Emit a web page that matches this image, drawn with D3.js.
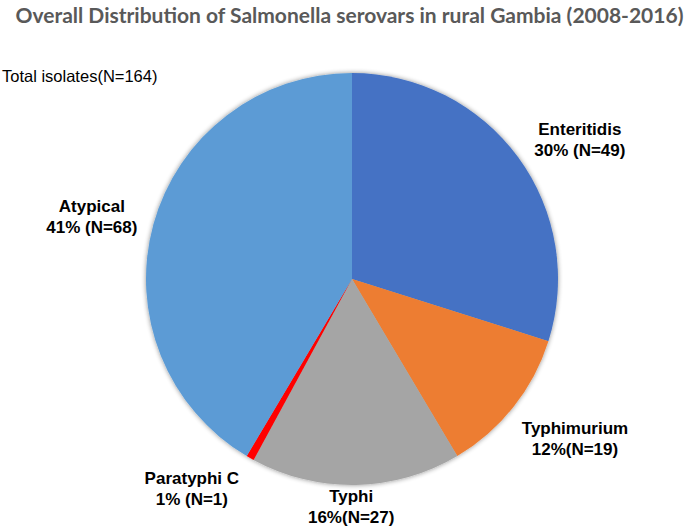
<!DOCTYPE html>
<html lang="en">
<head>
<meta charset="UTF-8">
<title>Salmonella serovars</title>
<style>
  body { margin: 0; background: #fff; }
  .titulo { font-family: Lato, "Open Sans", sans-serif; font-weight: 700; font-size: 21px; fill: #595959; }
  .etiqueta { font-family: "Liberation Sans", Arial, sans-serif; font-weight: 700; font-size: 17px; fill: #000; }
  .total { font-family: "Liberation Sans", Arial, sans-serif; font-size: 16.5px; fill: #000; }
</style>
<script src="https://d3js.org/d3.v7.min.js"></script>
</head>
<body>
<script>
// Datos
var serovars = ["Enteritidis", "Typhimurium", "Typhi", "Paratyphi C", "Atypical"];
var isolates = [49, 19, 27, 1, 68];
var colores  = ["#4472C4", "#ED7D31", "#A5A5A5", "#FF0000", "#5B9BD5"];
var separador = [" ", "", "", " ", " "];   // como en el original

var ancho = 689, alto = 530,
    cx = 352, cy = 279, radio = 206;

var total = d3.sum(isolates);
var datos = serovars.map(function(s, i) {
  return { nombre: s, n: isolates[i], color: colores[i], sep: separador[i] };
});

// ajuste de las etiquetas: radio relativo y giro (grados)
var ajuste = [
  { k: 1.296, giro: 4.8 },
  { k: 1.333, giro: -2.7 },
  { k: 1.108, giro: 1.3 },
  { k: 1.282, giro: 7.7 },
  { k: 1.298, giro: -2 }
];

var svg = d3.select("body").append("svg")
  .attr("width", ancho).attr("height", alto);

var defs = svg.append("defs");
var f = defs.append("filter").attr("id", "sombra")
  .attr("x", "-10%").attr("y", "-10%").attr("width", "120%").attr("height", "120%");
f.append("feGaussianBlur").attr("in", "SourceAlpha").attr("stdDeviation", 2.5).attr("result", "b");
f.append("feComponentTransfer").attr("in", "b").attr("result", "s")
  .append("feFuncA").attr("type", "linear").attr("slope", 0.45);
var m = f.append("feMerge");
m.append("feMergeNode").attr("in", "s");
m.append("feMergeNode").attr("in", "SourceGraphic");

svg.append("text").attr("class", "titulo")
  .attr("x", ancho / 2 + 5).attr("y", 23)
  .attr("text-anchor", "middle")
  .text("Overall Distribution of Salmonella serovars in rural Gambia (2008-2016)");

svg.append("text").attr("class", "total")
  .attr("x", 2).attr("y", 82)
  .text("Total isolates(N=" + total + ")");

var tarta = d3.pie().sort(null).value(function(d) { return d.n; });
var arco = d3.arc().innerRadius(0).outerRadius(radio);

var g = svg.append("g").attr("transform", "translate(" + cx + "," + cy + ")");

g.append("g").attr("filter", "url(#sombra)")
  .selectAll("path")
  .data(tarta(datos))
  .join("path")
  .attr("d", arco)
  .attr("fill", function(d) { return d.data.color; });

var arcos = tarta(datos);
arcos.forEach(function(d, i) {
  var a = (d.startAngle + d.endAngle) / 2 + ajuste[i].giro * Math.PI / 180;
  var r = radio * ajuste[i].k;
  var x = Math.sin(a) * r, y = -Math.cos(a) * r;
  var pct = Math.round(d.data.n / total * 100);
  var t = g.append("text").attr("class", "etiqueta")
    .attr("text-anchor", "middle")
    .attr("transform", "translate(" + x + "," + y + ")");
  t.append("tspan").attr("x", 0).attr("y", -5).text(d.data.nombre);
  t.append("tspan").attr("x", 0).attr("y", 16)
    .text(pct + "%" + d.data.sep + "(N=" + d.data.n + ")");
});
</script>
</body>
</html>
